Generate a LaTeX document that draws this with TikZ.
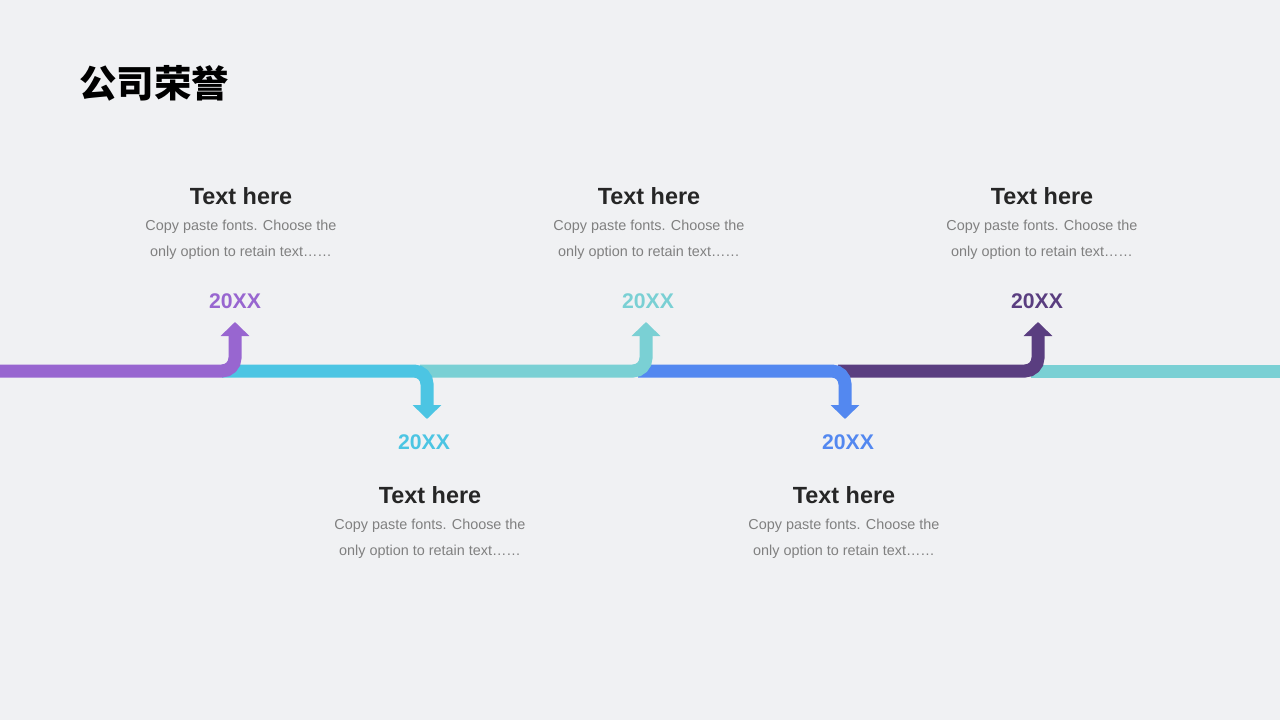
\documentclass[tikz,border=0pt]{standalone}
\usepackage{fontspec}
\setmainfont{Liberation Sans}
\newfontfamily\cjk{Noto Sans CJK SC}
\usetikzlibrary{arrows.meta}

\definecolor{bgcol}{RGB}{240,241,243}
\definecolor{lilac}{RGB}{152,102,208}
\definecolor{skyblue}{RGB}{76,197,227}
\definecolor{aqua}{RGB}{122,208,212}
\definecolor{royal}{RGB}{83,136,240}
\definecolor{plum}{RGB}{90,62,128}
\definecolor{headcol}{RGB}{38,38,38}
\definecolor{bodycol}{RGB}{128,128,128}

\begin{document}
\begin{tikzpicture}[x=1pt, y=-1pt,
    band/.style={line width=13pt, rounded corners=13pt},
    tip/.style={-{Triangle[width=28pt,length=14pt]}},
    headlbl/.style={anchor=base, inner sep=0pt, text=headcol,
      font=\fontsize{23.4}{23.4}\selectfont\bfseries},
    bodylbl/.style={anchor=base, inner sep=0pt, text=bodycol,
      font=\fontsize{14.4}{14.4}\selectfont},
    yearlbl/.style={anchor=base, inner sep=0pt,
      font=\fontsize{21.2}{21.2}\selectfont\bfseries}]

    % Hintergrund
    \fill[bgcol] (0,0) rectangle (1280,720);
    \useasboundingbox (0,0) rectangle (1280,720);

    % Titel
    \node[anchor=west, inner sep=0pt, font=\cjk\bfseries\fontsize{37.5}{37.5}\selectfont]
      (title) at (79,83) {公司荣誉};

    % Zeitstrahl, von rechts nach links gezeichnet
    \draw[band, aqua] (1031,371) -- (1280,371);
    \draw[band, plum, tip] (838,371) -- (1038,371) -- (1038,322);
    \draw[band, royal, tip] (638,371) -- (845,371) -- (845,419);
    \draw[band, aqua, tip] (420,371) -- (646,371) -- (646,322);
    \draw[band, skyblue, tip] (222,371) -- (427,371) -- (427,419);
    \draw[band, lilac, tip] (0,371) -- (235,371) -- (235,322);

    % Jahreszahlen
    \foreach \n/\x/\y/\c in {a/235/308/lilac, b/424/449/skyblue,
        c/648/308/aqua, d/848/449/royal, e/1037/308/plum}
      \node[yearlbl, text=\c] (year-\n) at (\x,\y) {20XX};

    % Textbloecke
    \foreach \n/\x/\y in {a/241/204, b/430/503, c/649/204, d/844/503, e/1042/204} {
      \node[headlbl] (head-\n) at (\x,\y) {Text here};
      \node[bodylbl] (body1-\n) at (\x,\y+26) {Copy paste fonts. Choose the};
      \node[bodylbl] (body2-\n) at (\x,\y+52.5) {only option to retain text……};
    }
\end{tikzpicture}
\end{document}
